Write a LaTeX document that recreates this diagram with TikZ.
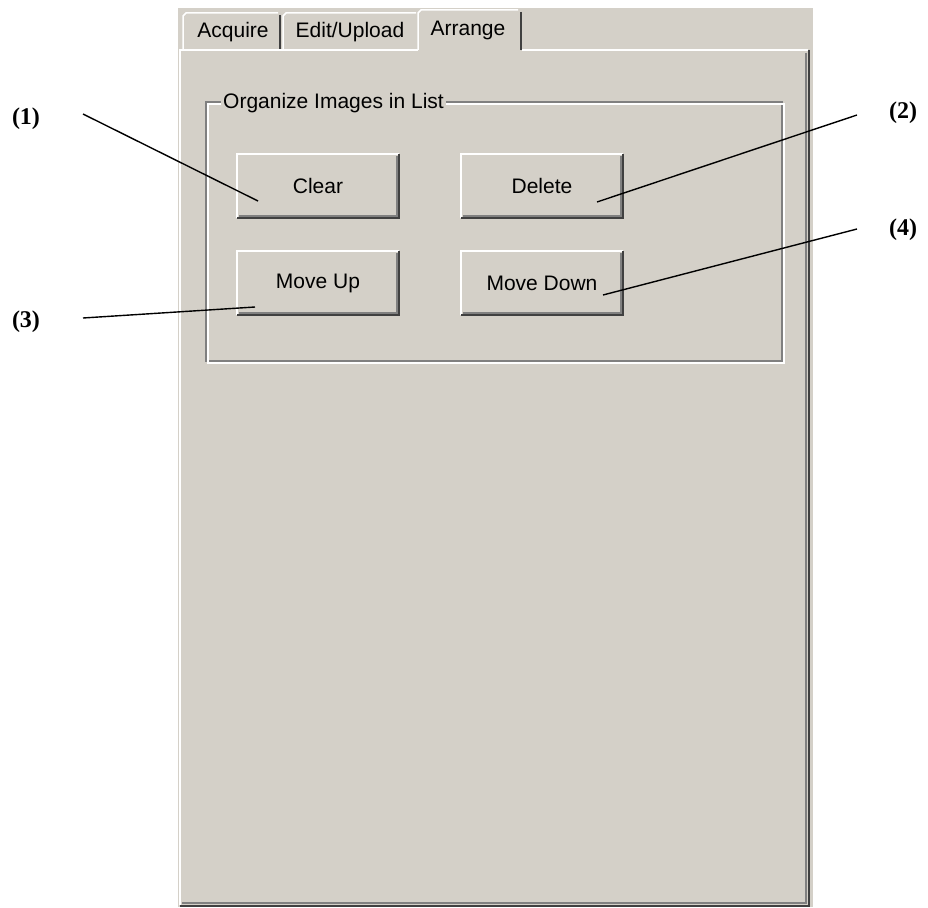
\documentclass[tikz,border=0pt]{standalone}
\usepackage{fontspec}
\setmainfont{Liberation Serif}
\setsansfont{Liberation Sans}
\definecolor{winface}{HTML}{D4D0C8}
\definecolor{winshadow}{HTML}{808080}
\definecolor{windark}{HTML}{404040}
\begin{document}
\begin{tikzpicture}[x=1pt, y=-1pt,
	ui/.style={font=\sffamily\fontsize{21}{24}\selectfont, inner sep=0pt},
	callout/.style={font=\bfseries\fontsize{24}{28}\selectfont, inner sep=0pt},
	button/.style={ui, minimum width=162pt, minimum height=64pt},
	lite/.style={draw=white, line width=1.5pt},
	dark/.style={draw=windark, line width=2pt},
	mid/.style={draw=winshadow, line width=1.5pt},
	pointer/.style={draw=black, line width=1.4pt}]
	\useasboundingbox (0,0) rectangle (928,907);
	\fill[winface] (178,8) rectangle (813,907);
	% tabs
	\draw[lite] (183,50) -- (183,16) -- (186,13) -- (278,13);
	\draw[dark] (280,15) -- (280,50);
	\draw[lite] (283,50) -- (283,16) -- (286,13) -- (416,13);
	\draw[lite] (418,50) -- (418,13) -- (421,10) -- (518,10);
	\draw[dark] (521,12) -- (521,50);
	\node[ui] (acquire) at (233,32) {Acquire};
	\node[ui] (editupload) at (350,32) {Edit/Upload};
	\node[ui] (arrange) at (468,30) {Arrange};
	% tab page
	\draw[lite] (180,905) -- (180,50) -- (418,50);
	\draw[lite] (522,50) -- (808,50);
	\draw[mid] (806,53) -- (806,903) -- (182,903);
	\draw[dark] (809,50) -- (809,906) -- (180,906);
	% group box
	\draw[mid] (206,102) rectangle (782,361);
	\draw[lite] (208,104) rectangle (784,363);
	\node[ui, fill=winface, inner xsep=2pt, anchor=west] (grouptitle) at (221,103) {Organize Images in List};
	% buttons
	\node[button] (clear) at (318,186) {Clear};
	\node[button] (delete) at (542,186) {Delete};
	\node[button] (moveup) at (318,283) {Move Up};
	\node[button] (movedown) at (542,283) {Move Down};
	\draw[lite] (clear.south west) -- (clear.north west) -- (clear.north east);
	\draw[mid] ([shift={(-2pt,-2pt)}]clear.north east) -- ([shift={(-2pt,2pt)}]clear.south east) -- ([shift={(2pt,2pt)}]clear.south west);
	\draw[dark] (clear.north east) -- (clear.south east) -- (clear.south west);
	\draw[lite] (delete.south west) -- (delete.north west) -- (delete.north east);
	\draw[mid] ([shift={(-2pt,-2pt)}]delete.north east) -- ([shift={(-2pt,2pt)}]delete.south east) -- ([shift={(2pt,2pt)}]delete.south west);
	\draw[dark] (delete.north east) -- (delete.south east) -- (delete.south west);
	\draw[lite] (moveup.south west) -- (moveup.north west) -- (moveup.north east);
	\draw[mid] ([shift={(-2pt,-2pt)}]moveup.north east) -- ([shift={(-2pt,2pt)}]moveup.south east) -- ([shift={(2pt,2pt)}]moveup.south west);
	\draw[dark] (moveup.north east) -- (moveup.south east) -- (moveup.south west);
	\draw[lite] (movedown.south west) -- (movedown.north west) -- (movedown.north east);
	\draw[mid] ([shift={(-2pt,-2pt)}]movedown.north east) -- ([shift={(-2pt,2pt)}]movedown.south east) -- ([shift={(2pt,2pt)}]movedown.south west);
	\draw[dark] (movedown.north east) -- (movedown.south east) -- (movedown.south west);
	% callouts
	\node[callout] (n1) at (26,119) {(1)};
	\node[callout] (n2) at (903,113) {(2)};
	\node[callout] (n3) at (26,322) {(3)};
	\node[callout] (n4) at (903,230) {(4)};
	\coordinate (s1) at (83,114);
	\coordinate (s2) at (857,115);
	\coordinate (s3) at (83,318);
	\coordinate (s4) at (857,229);
	\coordinate (e1) at (258,201);
	\coordinate (e2) at (597,202);
	\coordinate (e3) at (255,307);
	\coordinate (e4) at (603,295);
	\draw[pointer] (s1) to (e1);
	\draw[pointer] (s2) to (e2);
	\draw[pointer] (s3) to (e3);
	\draw[pointer] (s4) to (e4);
\end{tikzpicture}
\end{document}
